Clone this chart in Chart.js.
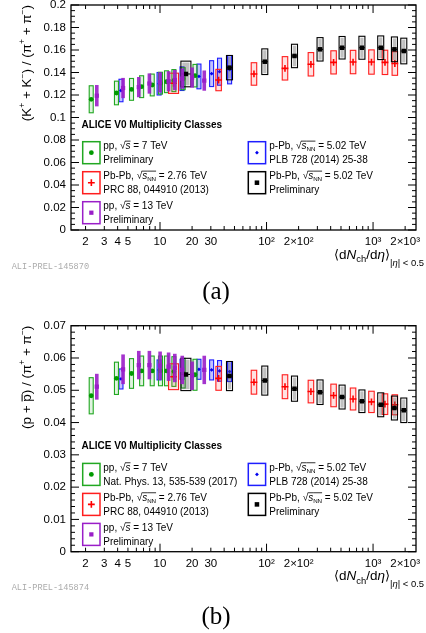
<!DOCTYPE html>
<html>
<head>
<meta charset="utf-8">
<script src="https://cdn.jsdelivr.net/npm/chart.js@4.4.1/dist/chart.umd.min.js"></script>
<style>
  html, body { margin: 0; padding: 0; background: #fff; }
  #wrap { position: relative; width: 426px; height: 633px; overflow: hidden; }
  canvas { position: absolute; left: 0; }
  #ca { top: 0; }
  #cb { top: 310px; }
</style>
</head>
<body>
<div id="wrap">
  <canvas id="ca" width="426" height="310"></canvas>
  <canvas id="cb" width="426" height="323"></canvas>
</div>
<script>
// ---- charged-particle multiplicity <dNch/deta> per V0 class ----
const multPP7     = [2.26, 3.90, 5.40, 6.72, 8.45, 10.1, 11.5, 13.5, 16.5, 21.3];
const multPP13    = [2.55, 4.50, 6.32, 7.95, 10.02, 12.04, 13.77, 16.17, 20.02, 26.02];
const multPPb     = [4.3, 9.8, 16.1, 23.2, 30.5, 36.2, 45.0];
const multPbPb276 = [13.4, 35.5, 76.2, 149, 261, 426, 649, 966, 1294, 1601];
const multPbPb502 = [17.5, 44.9, 96.3, 183, 318, 512, 786, 1180, 1587, 1943];

// ---- (K+ + K-)/(pi+ + pi-) and systematic half-widths ----
const kpiPP7        = [0.1162, 0.1218, 0.1250, 0.1274, 0.1289, 0.1305, 0.1318, 0.1328, 0.1345, 0.1372];
const kpiPP7Sys     = [0.0120, 0.0105, 0.0097, 0.0097, 0.0097, 0.0097, 0.0097, 0.0098, 0.0098, 0.0100];
const kpiPP13       = [0.1194, 0.1262, 0.1270, 0.1302, 0.1313, 0.1322, 0.1333, 0.1346, 0.1355, 0.1328];
const kpiPP13Sys    = [0.0095, 0.0090, 0.0090, 0.0090, 0.0090, 0.0090, 0.0090, 0.0090, 0.0090, 0.0090];
const kpiPPb        = [0.1240, 0.1300, 0.1345, 0.1365, 0.1390, 0.1407, 0.1425];
const kpiPPbSys     = [0.0100, 0.0100, 0.0105, 0.0110, 0.0115, 0.0120, 0.0126];
const kpiPbPb276    = [0.1304, 0.1333, 0.1387, 0.1437, 0.1473, 0.1490, 0.1493, 0.1493, 0.1490, 0.1480];
const kpiPbPb276Sys = [0.0090, 0.0095, 0.0100, 0.0104, 0.0104, 0.0103, 0.0104, 0.0108, 0.0108, 0.0105];
const kpiPbPb502    = [0.1387, 0.1443, 0.1496, 0.1547, 0.1606, 0.1620, 0.1620, 0.1620, 0.1606, 0.1591];
const kpiPbPb502Sys = [0.0114, 0.0108, 0.0114, 0.0104, 0.0104, 0.0100, 0.0102, 0.0105, 0.0110, 0.0114];

// ---- (p + pbar)/(pi+ + pi-) and systematic half-widths ----
const ppiPP7        = [0.0483, 0.0537, 0.0552, 0.0560, 0.0560, 0.0560, 0.0560, 0.0558, 0.0553, 0.0548];
const ppiPP7Sys     = [0.0056, 0.0050, 0.0046, 0.0046, 0.0046, 0.0046, 0.0046, 0.0046, 0.0046, 0.0048];
const ppiPP13       = [0.0511, 0.0565, 0.0578, 0.0578, 0.0576, 0.0573, 0.0569, 0.0563, 0.0545, 0.0563];
const ppiPP13Sys    = [0.0040, 0.0046, 0.0044, 0.0044, 0.0044, 0.0044, 0.0044, 0.0044, 0.0044, 0.0044];
const ppiPPb        = [0.0535, 0.0563, 0.0565, 0.0565, 0.0563, 0.0560, 0.0558];
const ppiPPbSys     = [0.0031, 0.0031, 0.0031, 0.0031, 0.0031, 0.0032, 0.0031];
const ppiPbPb276    = [0.0542, 0.0537, 0.0525, 0.0511, 0.0496, 0.0484, 0.0473, 0.0464, 0.0457, 0.0455];
const ppiPbPb276Sys = [0.0040, 0.0037, 0.0037, 0.0037, 0.0035, 0.0035, 0.0034, 0.0033, 0.0032, 0.0031];
const ppiPbPb502    = [0.0549, 0.0544, 0.0530, 0.0505, 0.0494, 0.0479, 0.0466, 0.0455, 0.0445, 0.0438];
const ppiPbPb502Sys = [0.0050, 0.0045, 0.0045, 0.0039, 0.0038, 0.0037, 0.0035, 0.0037, 0.0037, 0.0038];

// ---- axis ticks ----
const xTickValues = [2, 3, 4, 5, 10, 20, 30, 100, 200, 1000, 2000];
const xTickLabels = ['2', '3', '4', '5', '10', '20', '30', '10\u00B2', '2\u00D710\u00B2', '10\u00B3', '2\u00D710\u00B3'];
const yTicksKpi   = [0, 0.02, 0.04, 0.06, 0.08, 0.1, 0.12, 0.14, 0.16, 0.18, 0.2];
const yLabelsKpi  = ['0', '0.02', '0.04', '0.06', '0.08', '0.1', '0.12', '0.14', '0.16', '0.18', '0.2'];
const yTicksPpi   = [0, 0.01, 0.02, 0.03, 0.04, 0.05, 0.06, 0.07];
const yLabelsPpi  = ['0', '0.01', '0.02', '0.03', '0.04', '0.05', '0.06', '0.07'];

const SANS = '"Liberation Sans", "DejaVu Sans", Arial, sans-serif';

// marker / box styles per system
const STYLE = {
  pp7:   { color: '#009a00', box: '#22a822', fill: 'rgba(34,168,34,0.14)', kind: 'open',  w: 4,   pt: 'circle',  r: 2.4, bw: 0 },
  pp13:  { color: '#9a1ec8', box: '#9a1ec8', fill: 'rgba(154,30,200,0.9)', kind: 'solid', w: 3.6, pt: 'rect',    r: 3.0, bw: 0 },
  ppb:   { color: '#0000ee', box: '#1e1eff', fill: 'rgba(40,40,255,0.28)', kind: 'open',  w: 4,   pt: 'rectRot', r: 1.9, bw: 0 },
  pb276: { color: '#ff0000', box: '#ff1e1e', fill: 'rgba(255,40,40,0.14)', kind: 'open',  w: 5.5, w0: 10, pt: 'cross', r: 3.4, bw: 1.6 },
  pb502: { color: '#000000', box: '#000000', fill: 'rgba(90,90,90,0.38)',  kind: 'black', w: 6,   w0: 10, pt: 'rect',  r: 3.2, bw: 0, xbar: true }
};

function series(key, xs, ys, sys) {
  const s = STYLE[key];
  return {
    label: key,
    data: xs.map((x, i) => ({ x: x, y: ys[i] })),
    sys: sys,
    sty: s,
    showLine: false,
    pointStyle: s.pt,
    pointRadius: s.r,
    pointHoverRadius: s.r,
    backgroundColor: s.color,
    borderColor: s.color,
    borderWidth: s.bw
  };
}

// systematic boxes drawn just beneath each dataset's markers
const sysBoxes = {
  id: 'sysBoxes',
  beforeDatasetDraw(chart, args) {
    const ds = chart.data.datasets[args.index];
    const s = ds.sty;
    const ctx = chart.ctx, xs = chart.scales.x, ys = chart.scales.y;
    ctx.save();
    ds.data.forEach((p, i) => {
      const cx = xs.getPixelForValue(p.x);
      const yt = ys.getPixelForValue(p.y + ds.sys[i]);
      const yb = ys.getPixelForValue(p.y - ds.sys[i]);
      const w = (i === 0 && s.w0) ? s.w0 : s.w;
      const x0 = cx - w / 2;
      if (s.kind === 'solid') {
        ctx.fillStyle = s.fill;
        ctx.fillRect(x0, yt, w, yb - yt);
      } else if (s.kind === 'open') {
        ctx.fillStyle = s.fill;
        ctx.fillRect(x0, yt, w, yb - yt);
        ctx.strokeStyle = s.box; ctx.lineWidth = 1.1;
        ctx.strokeRect(x0, yt, w, yb - yt);
      } else {
        ctx.fillStyle = s.fill;
        ctx.fillRect(x0 + 1.4, yt + 1.4, w - 2.8, yb - yt - 2.8);
        ctx.strokeStyle = s.box; ctx.lineWidth = 1.1;
        ctx.strokeRect(x0, yt, w, yb - yt);
      }
      if (s.xbar) {
        const py = ys.getPixelForValue(p.y);
        ctx.strokeStyle = s.color; ctx.lineWidth = 1.1;
        ctx.beginPath(); ctx.moveTo(x0, py); ctx.lineTo(x0 + w, py); ctx.stroke();
      }
    });
    ctx.restore();
  }
};

// frame with inward ticks on all four sides
const frameTicks = {
  id: 'frameTicks',
  afterDatasetsDraw(chart) {
    const o = chart.options.plugins.frameTicks;
    const ctx = chart.ctx, a = chart.chartArea, xs = chart.scales.x, ys = chart.scales.y;
    ctx.save();
    ctx.strokeStyle = '#000';
    ctx.lineWidth = 1;
    ctx.beginPath();
    for (let d = 1; d <= 1000; d *= 10) {
      for (let m = 1; m <= 9; m++) {
        const v = m * d;
        if (v < xs.min || v > xs.max) continue;
        const px = xs.getPixelForValue(v);
        const len = m === 1 ? 8 : 4;
        ctx.moveTo(px, a.bottom); ctx.lineTo(px, a.bottom - len);
        ctx.moveTo(px, a.top);    ctx.lineTo(px, a.top + len);
      }
    }
    const n = Math.round(ys.max / o.minor);
    for (let i = 0; i <= n; i++) {
      const py = ys.getPixelForValue(i * o.minor);
      const len = (i % o.perMajor === 0) ? 8 : 4;
      ctx.moveTo(a.left, py);  ctx.lineTo(a.left + len, py);
      ctx.moveTo(a.right, py); ctx.lineTo(a.right - len, py);
    }
    ctx.stroke();
    ctx.lineWidth = 1.3;
    ctx.strokeRect(a.left, a.top, a.right - a.left, a.bottom - a.top);
    ctx.restore();
  }
};

// rich text: segments with italic / bold / sub / superscript / overbar
function fontOf(seg, size) {
  return (seg.it ? 'italic ' : '') + (seg.b ? 'bold ' : '') + size.toFixed(2) + 'px ' + (seg.fam || SANS);
}
function drawRich(ctx, segs, x, y, size, align) {
  const widths = segs.map(s => {
    ctx.font = fontOf(s, size * (s.sc || 1));
    return ctx.measureText(s.t).width + (s.gap || 0) * size;
  });
  const total = widths.reduce((p, q) => p + q, 0);
  let cx = align === 'right' ? x - total : (align === 'center' ? x - total / 2 : x);
  segs.forEach((s, i) => {
    const sz = size * (s.sc || 1);
    ctx.font = fontOf(s, sz);
    ctx.fillText(s.t, cx + (s.pre || 0) * size, y + (s.dy || 0) * size);
    if (s.bar !== undefined) {
      const bx = cx + (s.bx || 0) * size;
      ctx.fillRect(bx, y + s.bar * size, cx + widths[i] - bx, Math.max(0.8, size * 0.075));
    }
    cx += widths[i];
  });
  return total;
}

const SQRT_S = [{ t: '\u221A' }, { t: 's', it: true, bar: -0.86, bx: -0.05 }];
const SQRT_SNN = [{ t: '\u221A' }, { t: 's', it: true, bar: -0.86, bx: -0.05 }, { t: 'NN', sc: 0.62, dy: 0.18, bar: -0.86 }];
function sqrtLine(pre, post) {
  return [{ t: pre }].concat(pre.indexOf('Pb') >= 0 ? SQRT_SNN : SQRT_S, [{ t: post }]);
}

const SUP = (t) => ({ t: t, sc: 0.62, dy: -0.42 });
const Y_TITLE_KPI = [
  { t: '(K' }, SUP('+'), { t: ' + K' }, SUP('\u2212'), { t: ') / (\u03C0' }, SUP('+'), { t: ' + \u03C0' }, SUP('\u2212'), { t: ')' }
];
const Y_TITLE_PPI = [
  { t: '(p + ' }, { t: 'p', bar: -0.66, bx: 0.02 }, { t: ') / (\u03C0' }, SUP('+'), { t: ' + \u03C0' }, SUP('\u2212'), { t: ')' }
];
const X_TITLE = [
  { t: '\u27E8', fam: '"DejaVu Sans", sans-serif', sc: 0.95 },
  { t: 'd' }, { t: 'N', it: true },
  { t: 'ch', sc: 0.7, dy: 0.26 },
  { t: '/d' }, { t: '\u03B7', it: true },
  { t: '\u27E9', fam: '"DejaVu Sans", sans-serif', sc: 0.95 },
  { t: '|', sc: 0.7, dy: 0.52 }, { t: '\u03B7', it: true, sc: 0.7, dy: 0.52 }, { t: '| < 0.5', sc: 0.7, dy: 0.52 }
];

function legendEntries(pp7Ref) {
  return [
    { col: 0, row: 0, s: STYLE.pp7,   l1: sqrtLine('pp, ', ' = 7 TeV'),      l2: pp7Ref },
    { col: 0, row: 1, s: STYLE.pb276, l1: sqrtLine('Pb-Pb, ', ' = 2.76 TeV'), l2: 'PRC 88, 044910 (2013)' },
    { col: 0, row: 2, s: STYLE.pp13,  l1: sqrtLine('pp, ', ' = 13 TeV'),     l2: 'Preliminary' },
    { col: 1, row: 0, s: STYLE.ppb,   l1: sqrtLine('p-Pb, ', ' = 5.02 TeV'),  l2: 'PLB 728 (2014) 25-38' },
    { col: 1, row: 1, s: STYLE.pb502, l1: sqrtLine('Pb-Pb, ', ' = 5.02 TeV'), l2: 'Preliminary' }
  ];
}

function drawMarker(ctx, s, x, y) {
  ctx.fillStyle = s.color; ctx.strokeStyle = s.color;
  if (s.pt === 'circle') {
    ctx.beginPath(); ctx.arc(x, y, s.r, 0, Math.PI * 2); ctx.fill();
  } else if (s.pt === 'rect') {
    const h = s.r * Math.SQRT1_2;
    ctx.fillRect(x - h, y - h, 2 * h, 2 * h);
  } else if (s.pt === 'rectRot') {
    ctx.beginPath(); ctx.moveTo(x, y - s.r); ctx.lineTo(x + s.r, y); ctx.lineTo(x, y + s.r); ctx.lineTo(x - s.r, y); ctx.closePath(); ctx.fill();
  } else {
    ctx.lineWidth = s.bw;
    ctx.beginPath(); ctx.moveTo(x - s.r, y); ctx.lineTo(x + s.r, y); ctx.moveTo(x, y - s.r); ctx.lineTo(x, y + s.r); ctx.stroke();
  }
}

// titles, legend and labels
const annotations = {
  id: 'annot',
  afterDraw(chart) {
    const o = chart.options.plugins.annot;
    const ctx = chart.ctx, a = chart.chartArea;
    ctx.save();
    ctx.fillStyle = '#000';
    ctx.textBaseline = 'alphabetic';

    // y title, rotated, ending at the top of the frame
    ctx.save();
    ctx.translate(30.5, a.top);
    ctx.rotate(-Math.PI / 2);
    drawRich(ctx, o.yTitle, 0, 0, 13.5, 'right');
    ctx.restore();

    // x title, right aligned beyond the frame
    ctx.fillStyle = '#000';
    drawRich(ctx, X_TITLE, 424, a.bottom + 28.5, 13.5, 'right');

    // legend header
    drawRich(ctx, [{ t: 'ALICE V0 Multiplicity Classes', b: true }], 81.5, a.bottom - 106 + 3.6, 10, 'left');

    // legend entries
    const colBox = [82.7, 248.3], colText = [103.3, 269.3];
    legendEntries(o.pp7Ref).forEach(e => {
      const top = a.bottom - 88.3 + e.row * 30;
      ctx.strokeStyle = e.s.box; ctx.lineWidth = 1.5;
      ctx.strokeRect(colBox[e.col], top, 17.3, 22);
      drawMarker(ctx, e.s, colBox[e.col] + 8.65, top + 11);
      ctx.fillStyle = '#000';
      drawRich(ctx, e.l1, colText[e.col], top + 4 + 3.6, 10, 'left');
      drawRich(ctx, [{ t: e.l2 }], colText[e.col], top + 17.6 + 3.6, 10, 'left');
    });

    // preliminary figure id
    ctx.fillStyle = '#ababab';
    ctx.font = '8.6px "Liberation Mono", "DejaVu Sans Mono", monospace';
    ctx.textBaseline = 'middle';
    ctx.textAlign = 'left';
    ctx.fillText(o.prelim, 11.7, a.bottom + 36.5);

    // panel letter
    ctx.fillStyle = '#000';
    ctx.font = '25px "Liberation Serif", "DejaVu Serif", serif';
    ctx.textAlign = 'center';
    ctx.textBaseline = 'alphabetic';
    ctx.fillText(o.letter, 216, o.letterY);
    ctx.restore();
  }
};

function makeChart(canvasId, cfg) {
  return new Chart(document.getElementById(canvasId), {
    type: 'scatter',
    data: { datasets: cfg.datasets },
    plugins: [sysBoxes, frameTicks, annotations],
    options: {
      responsive: false,
      animation: false,
      events: [],
      layout: { padding: { left: 0, right: 10, top: cfg.padTop, bottom: 0 } },
      plugins: {
        legend: { display: false },
        tooltip: { enabled: false },
        frameTicks: { minor: cfg.minor, perMajor: cfg.perMajor },
        annot: { yTitle: cfg.yTitle, prelim: cfg.prelim, letter: cfg.letter, letterY: cfg.letterY, pp7Ref: cfg.pp7Ref }
      },
      scales: {
        x: {
          type: 'logarithmic',
          min: 1.46, max: 2530,
          grid: { display: false, drawTicks: false },
          border: { display: false },
          afterBuildTicks: s => { s.ticks = xTickValues.map(v => ({ value: v })); },
          afterFit: s => { s.height = cfg.xHeight; s.paddingLeft = 0; s.paddingRight = 0; },
          ticks: {
            autoSkip: false, maxRotation: 0, minRotation: 0, padding: 5, color: '#000',
            font: { family: SANS, size: 11.5 },
            callback: (v) => { const i = xTickValues.indexOf(v); return i >= 0 ? xTickLabels[i] : ''; }
          }
        },
        y: {
          type: 'linear',
          min: 0, max: cfg.yMax,
          grid: { display: false, drawTicks: false },
          border: { display: false },
          afterBuildTicks: s => { s.ticks = cfg.yTicks.map(v => ({ value: v })); },
          afterFit: s => { s.width = 71; s.paddingTop = 0; s.paddingBottom = 0; },
          ticks: {
            autoSkip: false, padding: 5, color: '#000',
            font: { family: SANS, size: 11.5 },
            callback: (v) => {
              const i = cfg.yTicks.findIndex(t => Math.abs(t - v) < 1e-9);
              return i >= 0 ? cfg.yLabels[i] : '';
            }
          }
        }
      }
    }
  });
}

// index 0 is painted last (on top)
makeChart('ca', {
  datasets: [
    series('pp13', multPP13, kpiPP13, kpiPP13Sys),
    series('pb502', multPbPb502, kpiPbPb502, kpiPbPb502Sys),
    series('pb276', multPbPb276, kpiPbPb276, kpiPbPb276Sys),
    series('pp7', multPP7, kpiPP7, kpiPP7Sys),
    series('ppb', multPPb, kpiPPb, kpiPPbSys)
  ],
  padTop: 5, xHeight: 80, yMax: 0.2, yTicks: yTicksKpi, yLabels: yLabelsKpi,
  minor: 0.005, perMajor: 4,
  yTitle: Y_TITLE_KPI, prelim: 'ALI-PREL-145870', letter: '(a)', letterY: 299,
  pp7Ref: 'Preliminary'
});

makeChart('cb', {
  datasets: [
    series('pp13', multPP13, ppiPP13, ppiPP13Sys),
    series('pb502', multPbPb502, ppiPbPb502, ppiPbPb502Sys),
    series('pb276', multPbPb276, ppiPbPb276, ppiPbPb276Sys),
    series('pp7', multPP7, ppiPP7, ppiPP7Sys),
    series('ppb', multPPb, ppiPPb, ppiPPbSys)
  ],
  padTop: 15.7, xHeight: 81.3, yMax: 0.07, yTicks: yTicksPpi, yLabels: yLabelsPpi,
  minor: 0.002, perMajor: 5,
  yTitle: Y_TITLE_PPI, prelim: 'ALI-PREL-145874', letter: '(b)', letterY: 314,
  pp7Ref: 'Nat. Phys. 13, 535-539 (2017)'
});
</script>
</body>
</html>
